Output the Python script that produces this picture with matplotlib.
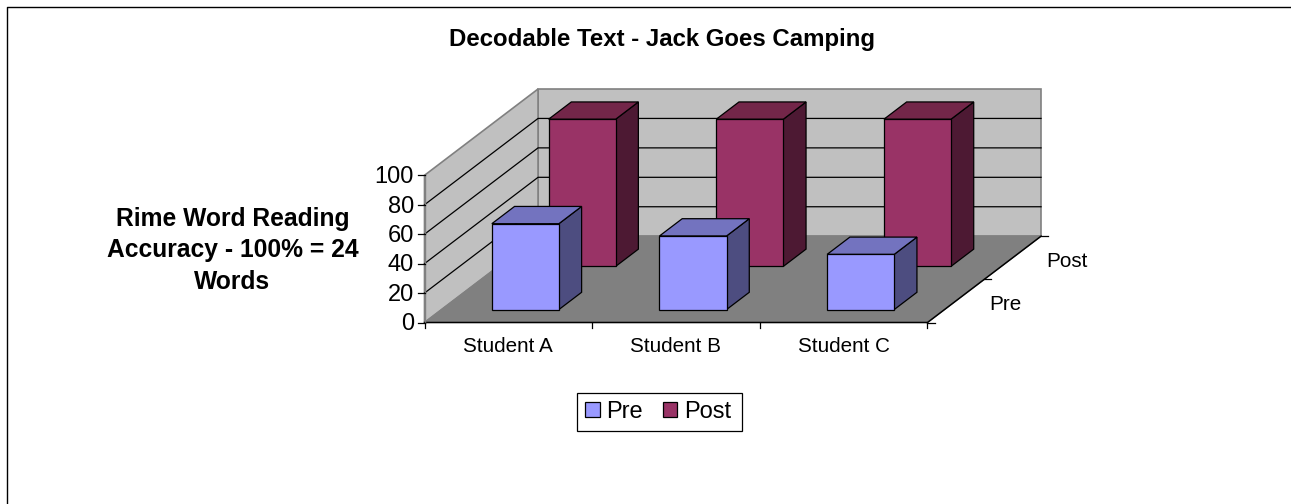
import matplotlib
matplotlib.use('Agg')
import matplotlib.pyplot as plt
from matplotlib.patches import Patch, Polygon, Rectangle

plt.rcParams['font.family'] = ['Liberation Sans', 'DejaVu Sans']

students = ['Student A', 'Student B', 'Student C']
series_names = ['Pre', 'Post']
pre_scores = [58.33, 50, 37.5]
post_scores = [100, 100, 100]
value_ticks = [0, 20, 40, 60, 80, 100]

WALL = '#C0C0C0'
FLOOR = '#808080'
# front, top, side shades for each series
PRE_SHADES = ['#9999FF', '#7373BF', '#4D4D80']
POST_SHADES = ['#993366', '#732649', '#4D1933']

# oblique projection: one full unit of depth moves this far in data units
DEPTH_X = 113.5 / 167.6
DEPTH_Y = 86.5 / 1.475
BAR_W = 0.4
BAR_D = 0.4


def proj(cat, depth, value):
    return cat + depth * DEPTH_X, value + depth * DEPTH_Y


def face(ax, corners, color, z, edge='black', lw=0.9):
    pts = [proj(*c) for c in corners]
    ax.add_patch(Polygon(pts, closed=True, facecolor=color, edgecolor=edge,
                         linewidth=lw, joinstyle='miter', zorder=z, clip_on=False))


def draw_bar(ax, cat, slot, value, shades, z):
    x0 = cat + (1 - BAR_W) / 2
    x1 = x0 + BAR_W
    d0 = (slot + (1 - BAR_D) / 2) / 2
    d1 = d0 + BAR_D / 2
    face(ax, [(x1, d0, 0), (x1, d1, 0), (x1, d1, value), (x1, d0, value)], shades[2], z)
    face(ax, [(x0, d0, value), (x1, d0, value), (x1, d1, value), (x0, d1, value)], shades[1], z)
    face(ax, [(x0, d0, 0), (x1, d0, 0), (x1, d0, value), (x0, d0, value)], shades[0], z)


W, H = 1291, 504
fig = plt.figure(figsize=(W / 100, H / 100), dpi=100)

# chart frame, top and left edges only
fig.add_artist(plt.Line2D([6.5 / W, 6.5 / W, 1], [0, 1 - 6.5 / H, 1 - 6.5 / H],
                          transform=fig.transFigure, color='black', linewidth=1.0))

ax = fig.add_axes([424.5 / W, 1 - 322.5 / H, 503 * (1 + DEPTH_X / 3) / W, 233.5 / H])
ax.set_xlim(0, 3 + DEPTH_X)
ax.set_ylim(0, 100 + DEPTH_Y)
ax.axis('off')

n = len(students)
top = value_ticks[-1]

# walls and floor
face(ax, [(0, 1, 0), (n, 1, 0), (n, 1, top), (0, 1, top)], WALL, 1, edge=FLOOR, lw=1.2)
face(ax, [(0, 0, 0), (0, 1, 0), (0, 1, top), (0, 0, top)], WALL, 1, edge=FLOOR, lw=1.2)
face(ax, [(0, 0, 0), (n, 0, 0), (n, 1, 0), (0, 1, 0)], FLOOR, 2, edge=FLOOR, lw=0.8)

# gridlines along both walls
for v in value_ticks[1:-1]:
    xs, ys = zip(proj(0, 0, v), proj(0, 1, v), proj(n, 1, v))
    ax.plot(xs, ys, color='black', lw=0.9, zorder=1.5, clip_on=False)

# axis lines
xs, ys = zip(proj(0, 0, 0), proj(n, 0, 0), proj(n, 1, 0))
ax.plot(xs, ys, color='black', lw=1.1, zorder=3, clip_on=False)
ax.plot([0, 0], [0, top], color=FLOOR, lw=1.0, zorder=3, clip_on=False)

px_x = 1 / 167.6
px_y = 1 / 1.475

# value axis ticks and labels
for v in value_ticks:
    ax.plot([-6 * px_x, 0], [v, v], color='black', lw=0.9, zorder=3, clip_on=False)
    ax.text(-10.5 * px_x, v + 0.7 * px_y, str(v), ha='right', va='center_baseline', fontsize=17, color='black')

# category ticks and labels
for i in range(n + 1):
    ax.plot([i, i], [0, -6 * px_y], color='black', lw=0.9, zorder=3, clip_on=False)
for i, name in enumerate(students):
    ax.text(i + 0.5, -22 * px_y, name, ha='center', va='center_baseline', fontsize=14.9, color='black')

# series axis ticks and labels
for d in [0, 0.5, 1]:
    x, y = proj(n, d, 0)
    ax.plot([x, x + 7 * px_x], [y, y], color='black', lw=0.9, zorder=3, clip_on=False)
for d, name in zip([0.25, 0.75], series_names):
    x, y = proj(n, d, 0)
    ax.text(x + 33.5 * px_x, y - 1.5 * px_y, name, ha='left', va='center_baseline',
            fontsize=14.9, color='black')

# back row first so the front row overlaps it
for i, v in enumerate(post_scores):
    draw_bar(ax, i, 1, v, POST_SHADES, 4)
for i, v in enumerate(pre_scores):
    draw_bar(ax, i, 0, v, PRE_SHADES, 5)

fig.text(662 / W, 1 - 37 / H, 'Decodable Text - Jack Goes Camping', ha='center', va='center_baseline',
         fontsize=17.3, fontweight='bold', color='black')
fig.text(232.5 / W, 1 - 250.5 / H, 'Rime Word Reading\nAccuracy - 100% = 24\nWords', ha='center', va='center',
         fontsize=17.7, fontweight='bold', color='black', linespacing=1.42)

# legend box is drawn separately, it has more room on the right than on the left
fig.add_artist(Rectangle((577 / W, 1 - 431 / H), 165 / W, 38 / H, transform=fig.transFigure,
                         facecolor='white', edgecolor='black', linewidth=0.9))
handles = [Patch(facecolor=PRE_SHADES[0], edgecolor='black', lw=0.9),
           Patch(facecolor=POST_SHADES[0], edgecolor='black', lw=0.9)]
leg = fig.legend(handles, series_names, loc='center left', bbox_to_anchor=(585 / W, 1 - 412 / H),
                 ncol=2, fontsize=17, frameon=False, handlelength=0.62, handleheight=0.62,
                 handletextpad=0.285, columnspacing=0.835, borderpad=0, borderaxespad=0)
leg.set_zorder(5)

fig.savefig('out.png', dpi=100, facecolor='white')
